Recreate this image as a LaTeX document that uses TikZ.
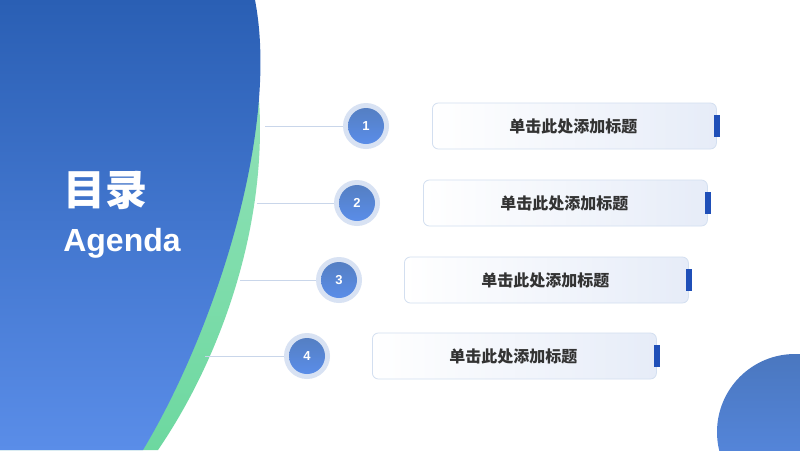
\documentclass[tikz,border=0pt]{standalone}
\usepackage{fontspec}
\setmainfont{Liberation Sans}
\newfontfamily\cjk{Noto Sans CJK SC}
\usetikzlibrary{shadings,calc}
\definecolor{bluetop}{HTML}{2A5FB4}
\definecolor{bluebot}{HTML}{5A8DE8}
\definecolor{greenc}{HTML}{6DD8A0}
\definecolor{ringc}{HTML}{D8E2F3}
\definecolor{linec}{HTML}{C9D6EA}
\definecolor{boxr}{HTML}{E6ECF8}
\definecolor{boxb}{HTML}{D3DFF0}
\definecolor{barc}{HTML}{1F4FB8}
\definecolor{txtc}{HTML}{333333}
\tikzset{
  ring/.style={circle,minimum size=46pt,fill=ringc,inner sep=0pt},
  numc/.style={circle,minimum size=36pt,inner sep=0pt,top color=bluetop!80!white,bottom color=bluebot,text=white,font=\bfseries\fontsize{13}{13}\selectfont},
  conn/.style={draw=linec,line width=0.8pt},
  itembox/.style={rounded corners=6pt,draw=boxb,line width=0.8pt,left color=white,right color=boxr,minimum width=284pt,minimum height=46pt,anchor=west,inner sep=0pt},
  itemtxt/.style={text=txtc,font=\cjk\bfseries\fontsize{16}{16}\selectfont},
  bar/.style={fill=barc}
}
\begin{document}
\begin{tikzpicture}[x=1pt,y=-1pt]
\useasboundingbox (0,0) rectangle (800,450);
\fill[white] (0,0) rectangle (800,450);
\shade[top color=greenc!70!white,bottom color=greenc] (0,0)--(240,0) .. controls (290,150) and (240,330) .. (158,450)--(0,450)--cycle;
\shade[top color=bluetop,bottom color=bluebot] (0,0)--(255,0) .. controls (280,130) and (215,330) .. (143,450)--(0,450)--cycle;
\begin{scope}
\clip (0,0) rectangle (800,450);
\shade[top color=bluetop!85!white,bottom color=bluebot] (795,432) circle[radius=78];
\end{scope}
\node[text=white,font=\cjk\bfseries\fontsize{42}{42}\selectfont] (t1) at (105,190) {目录};
\node[text=white,font=\bfseries\fontsize{32}{32}\selectfont] (t2) at (122,243) {Agenda};
\foreach \i/\cx/\cy/\lx/\bx in {1/366/126/265/432, 2/357/203/257/423, 3/339/280/240/404, 4/307/356/205/372}{
  \coordinate (l\i) at (\lx,\cy);
  \node[ring] (r\i) at (\cx,\cy) {};
  \draw[conn] (l\i) -- (r\i.west);
  \node[numc] (n\i) at (\cx,\cy) {\i};
  \node[itembox] (b\i) at (\bx,\cy) {};
  \node[itemtxt] (tx\i) at ($(b\i.center)+(-1,0)$) {单击此处添加标题};
  \fill[bar] ($(b\i.east)+(-3,-11)$) rectangle ($(b\i.east)+(3,11)$);
}
\end{tikzpicture}
\end{document}
